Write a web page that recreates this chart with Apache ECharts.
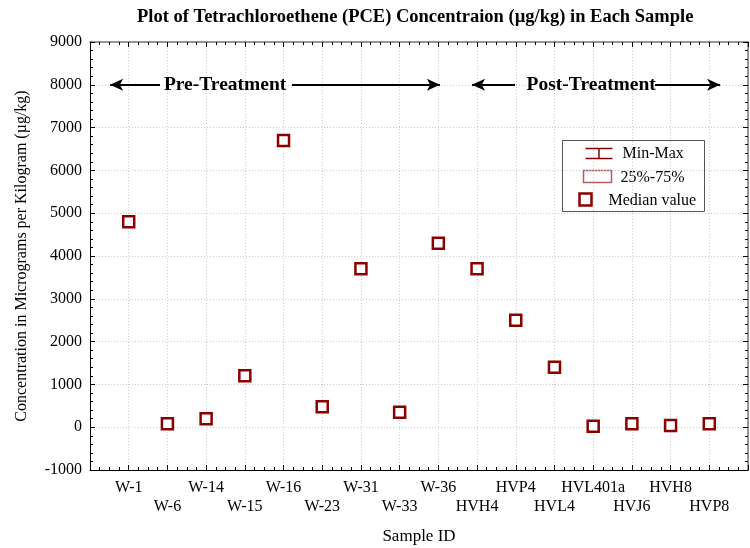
<!DOCTYPE html>
<html>
<head>
<meta charset="utf-8">
<script src="https://cdn.jsdelivr.net/npm/echarts@6/dist/echarts.min.js"></script>
<style>
  html, body { margin: 0; padding: 0; background: #fff; }
  #chart { width: 750px; height: 548px; }
</style>
</head>
<body>
<div id="chart"></div>
<script>
// sample ids along the x axis
const samples = ['W-1', 'W-6', 'W-14', 'W-15', 'W-16', 'W-23', 'W-31', 'W-33', 'W-36',
                 'HVH4', 'HVP4', 'HVL4', 'HVL401a', 'HVJ6', 'HVH8', 'HVP8'];
// median PCE concentration (ug/kg)
const medians = [4800, 80, 200, 1200, 6700, 480, 3700, 350, 4300,
                 3700, 2500, 1400, 20, 80, 40, 80];
const yTicks = [-1000, 0, 1000, 2000, 3000, 4000, 5000, 6000, 7000, 8000, 9000];

const serif = 'Liberation Serif';
const dark = '#8b0000';

const chart = echarts.init(document.getElementById('chart'));

const points = samples.map((s, i) => [i + 1, medians[i]]);

const tickCommon = { show: true, inside: true, length: 5, lineStyle: { color: '#000' } };
const minorCommon = { show: true, length: 3, lineStyle: { color: '#000' } };

const option = {
    backgroundColor: '#fff',
    animation: false,
    title: {
        text: 'Plot of Tetrachloroethene (PCE) Concentraion (µg/kg) in Each Sample',
        left: 132,
        top: 3,
        textStyle: { fontFamily: serif, fontSize: 18.5, fontWeight: 'bold', color: '#000' }
    },
    grid: { left: 90, right: 2, top: 42, bottom: 78, outerBoundsMode: 'none' },
    xAxis: [{
        type: 'value',
        min: 0, max: samples.length + 1, interval: 1,
        name: 'Sample ID',
        nameLocation: 'middle',
        nameGap: 58,
        nameTextStyle: { fontFamily: serif, fontSize: 17, color: '#000' },
        axisLine: { show: true, onZero: false, lineStyle: { color: '#000', width: 1 } },
        axisTick: tickCommon,
        minorTick: Object.assign({ splitNumber: 4 }, minorCommon),
        splitLine: { show: true, lineStyle: { color: '#ccc', type: [1, 2] } },
        axisLabel: {
            fontFamily: serif, fontSize: 16, color: '#000', margin: 8, lineHeight: 19,
            verticalAlign: 'top',
            formatter: v => {
                const s = samples[v - 1];
                if (!s) return '';
                return (v % 2 === 0) ? '\n' + s : s;
            }
        }
    }, {
        type: 'value', position: 'top',
        min: 0, max: samples.length + 1, interval: 1,
        axisLine: { show: true, onZero: false, lineStyle: { color: '#777', width: 1.5 } },
        axisTick: tickCommon,
        minorTick: Object.assign({ splitNumber: 4 }, minorCommon),
        splitLine: { show: false },
        axisLabel: { show: false }
    }],
    yAxis: [{
        type: 'value',
        min: yTicks[0], max: yTicks[yTicks.length - 1], interval: 1000,
        name: 'Concentration in Micrograms per Kilogram (µg/kg)',
        nameLocation: 'middle',
        nameGap: 60,
        nameTextStyle: { fontFamily: serif, fontSize: 16, color: '#000' },
        axisLine: { show: true, onZero: false, lineStyle: { color: '#000', width: 1 } },
        axisTick: tickCommon,
        minorTick: Object.assign({ splitNumber: 5 }, minorCommon),
        splitLine: { show: true, lineStyle: { color: '#ccc', type: [1, 2] } },
        axisLabel: { fontFamily: serif, fontSize: 16, color: '#000', margin: 8, formatter: v => String(v) }
    }, {
        type: 'value', position: 'right',
        min: yTicks[0], max: yTicks[yTicks.length - 1], interval: 1000,
        axisLine: { show: true, onZero: false, lineStyle: { color: '#777', width: 1.5 } },
        axisTick: tickCommon,
        minorTick: Object.assign({ splitNumber: 5 }, minorCommon),
        splitLine: { show: false },
        axisLabel: { show: false }
    }],
    series: [{
        name: 'Median value',
        type: 'scatter',
        xAxisIndex: 0, yAxisIndex: 0,
        symbol: 'rect',
        symbolSize: 11,
        itemStyle: { color: '#fff', borderColor: dark, borderWidth: 2.5, opacity: 1 },
        data: points,
        markLine: {
            silent: true,
            symbol: ['none', 'arrow'],
            symbolSize: [9, 13],
            label: { show: false },
            lineStyle: { color: '#000', width: 2, type: 'solid' },
            data: [
                [{ coord: [1.81, 8000] }, { coord: [0.52, 8000] }],
                [{ coord: [5.22, 8000] }, { coord: [9.04, 8000] }],
                [{ coord: [10.98, 8000] }, { coord: [9.87, 8000] }],
                [{ coord: [14.6, 8000] }, { coord: [16.28, 8000] }]
            ]
        },
        markPoint: {
            silent: true,
            symbol: 'rect',
            symbolSize: 0,
            label: {
                show: true, position: 'inside',
                fontFamily: serif, fontSize: 19.5, fontWeight: 'bold', color: '#000',
                formatter: p => p.name
            },
            data: [
                { name: 'Pre-Treatment', coord: [3.49, 8000] },
                { name: 'Post-Treatment', coord: [12.95, 8000] }
            ]
        }
    }],
    graphic: [{
        type: 'group',
        left: 562, top: 140,
        children: [
            { type: 'rect', shape: { x: 0, y: 0, width: 142, height: 71 },
              style: { fill: '#fff', stroke: '#555', lineWidth: 1 } },
            // min-max icon
            { type: 'polyline', shape: { points: [[23, 8], [50, 8]] }, style: { stroke: dark, lineWidth: 1.5 } },
            { type: 'polyline', shape: { points: [[23, 18], [50, 18]] }, style: { stroke: dark, lineWidth: 1.5 } },
            { type: 'polyline', shape: { points: [[36.5, 8], [36.5, 18]] }, style: { stroke: dark, lineWidth: 1.5 } },
            { type: 'text', x: 60, y: 13, style: { text: 'Min-Max', fontFamily: serif, fontSize: 16, fill: '#000', verticalAlign: 'middle' } },
            // 25-75 box
            { type: 'rect', shape: { x: 21, y: 30, width: 28, height: 12 }, style: { fill: '#fff', stroke: '#b06060', lineWidth: 1.5 } },
            { type: 'text', x: 58, y: 37, style: { text: '25%-75%', fontFamily: serif, fontSize: 16, fill: '#000', verticalAlign: 'middle' } },
            // median symbol
            { type: 'rect', shape: { x: 17, y: 53, width: 12, height: 12 }, style: { fill: '#fff', stroke: dark, lineWidth: 2.5 } },
            { type: 'text', x: 46, y: 60, style: { text: 'Median value', fontFamily: serif, fontSize: 16, fill: '#000', verticalAlign: 'middle' } }
        ]
    }]
};

chart.setOption(option);
</script>
</body>
</html>
